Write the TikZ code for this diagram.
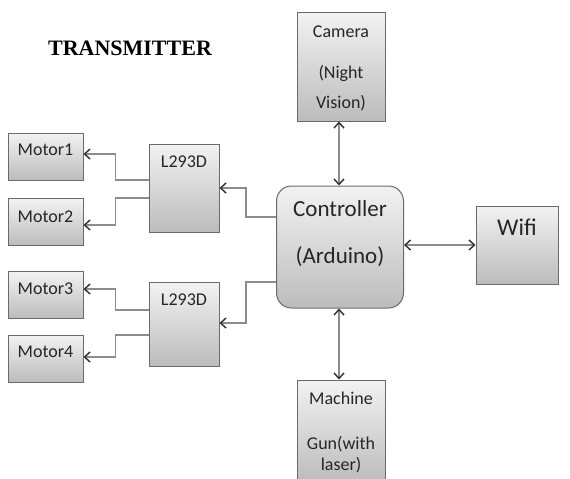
\documentclass[tikz,border=0pt]{standalone}
\usepackage{fontspec}
\setmainfont{Carlito}
\newfontfamily\titlefont{Liberation Serif}
\usepackage{xcolor}
\usetikzlibrary{arrows.meta, positioning}
\definecolor{edge}{HTML}{6A6A6A}
\definecolor{wire}{HTML}{8C8C8C}
\definecolor{tip}{HTML}{2E2E2E}
\definecolor{shadetop}{HTML}{F2F2F2}
\definecolor{shadebot}{HTML}{BCBCBC}

\begin{document}
\begin{tikzpicture}[x=1pt, y=-1pt,
          blk/.style={draw=edge, line width=1pt, top color=shadetop, bottom color=shadebot,
                      inner sep=0pt},
          lbl/.style={anchor=north, inner sep=0pt, align=center, text=black!85},
          small/.style={font=\fontsize{18}{22}\selectfont},
          big/.style={font=\fontsize{23}{47}\selectfont},
          wire/.style={draw=wire, line width=1.4pt,
                       -{Straight Barb[length=5.5pt, width=10pt, line width=1.4pt, color=tip]}},
          both/.style={wire, {Straight Barb[length=5.5pt, width=10pt, line width=1.4pt, color=tip]}-{Straight Barb[length=5.5pt, width=10pt, line width=1.4pt, color=tip]}}]
        \useasboundingbox (0,0) rectangle (570,479);
        \node[font=\titlefont\bfseries\fontsize{22}{24}\selectfont] (title) at (130,48) {TRANSMITTER};
        % motors
        \node[blk, minimum width=75, minimum height=47,
              label={[lbl, small, yshift=-11.5pt]north:Motor1}] (m1) at (45.5,156.5) {};
        \node[blk, minimum width=75, minimum height=47,
              label={[lbl, small, yshift=-12.5pt]north:Motor2}] (m2) at (45.5,222) {};
        \node[blk, minimum width=75, minimum height=47,
              label={[lbl, small, yshift=-11.5pt]north:Motor3}] (m3) at (45.5,295) {};
        \node[blk, minimum width=75, minimum height=47,
              label={[lbl, small, yshift=-11.5pt]north:Motor4}] (m4) at (45.5,358.5) {};
        % drivers
        \node[blk, minimum width=70, minimum height=88,
              label={[lbl, small, yshift=-12pt]north:L293D}] (d1) at (184,188) {};
        \node[blk, minimum width=70, minimum height=84,
              label={[lbl, small, yshift=-12pt]north:L293D}] (d2) at (184,324) {};
        % controller and peripherals
        \node[blk, rounded corners=15pt, minimum width=127, minimum height=122,
              label={[lbl, big, yshift=-14.5pt]north:Controller\\(Arduino)}] (ctrl) at (340,247) {};
        \node[blk, minimum width=88, minimum height=109,
              label={[lbl, font=\fontsize{18}{30}\selectfont, yshift=-14pt]north:Camera\\[11pt](Night\\Vision)}] (cam) at (341,66.5) {};
        \node[blk, minimum width=88, minimum height=102,
              label={[lbl, font=\fontsize{18}{21}\selectfont, yshift=-12pt]north:Machine\\[24pt]Gun(with\\laser)}] (gun) at (341,431) {};
        \node[blk, minimum width=82, minimum height=78,
              label={[lbl, font=\fontsize{24}{30}\selectfont, yshift=-13.5pt]north:Wifi}] (wifi) at (517,245) {};
        % links
        \draw[wire] ([yshift=8pt]d1.west) -- ++(-33,0) |- ([yshift=2.5pt]m1.east);
        \draw[wire] ([yshift=-10pt]d1.west) -- ++(-33,0) |- ([yshift=-3pt]m2.east);
        \draw[wire] ([yshift=14pt]d2.west) -- ++(-33,0) |- ([yshift=6pt]m3.east);
        \draw[wire] ([yshift=-11pt]d2.west) -- ++(-33,0) |- ([yshift=1.5pt]m4.east);
        \draw[wire] ([yshift=30pt]ctrl.west) -- ++(-30,0) |- (d1.east);
        \draw[wire] ([yshift=-35pt]ctrl.west) -- ++(-30,0) |- ([yshift=1pt]d2.east);
        \draw[both] ([xshift=-2pt]cam.south) -- ([xshift=-2pt]cam.south |- ctrl.north);
        \draw[both] ([xshift=-1pt]ctrl.south) -- ([xshift=-1pt]ctrl.south |- gun.north);
        \draw[both] ([yshift=2pt]ctrl.east) -- (wifi.west);
      \end{tikzpicture}
\end{document}
